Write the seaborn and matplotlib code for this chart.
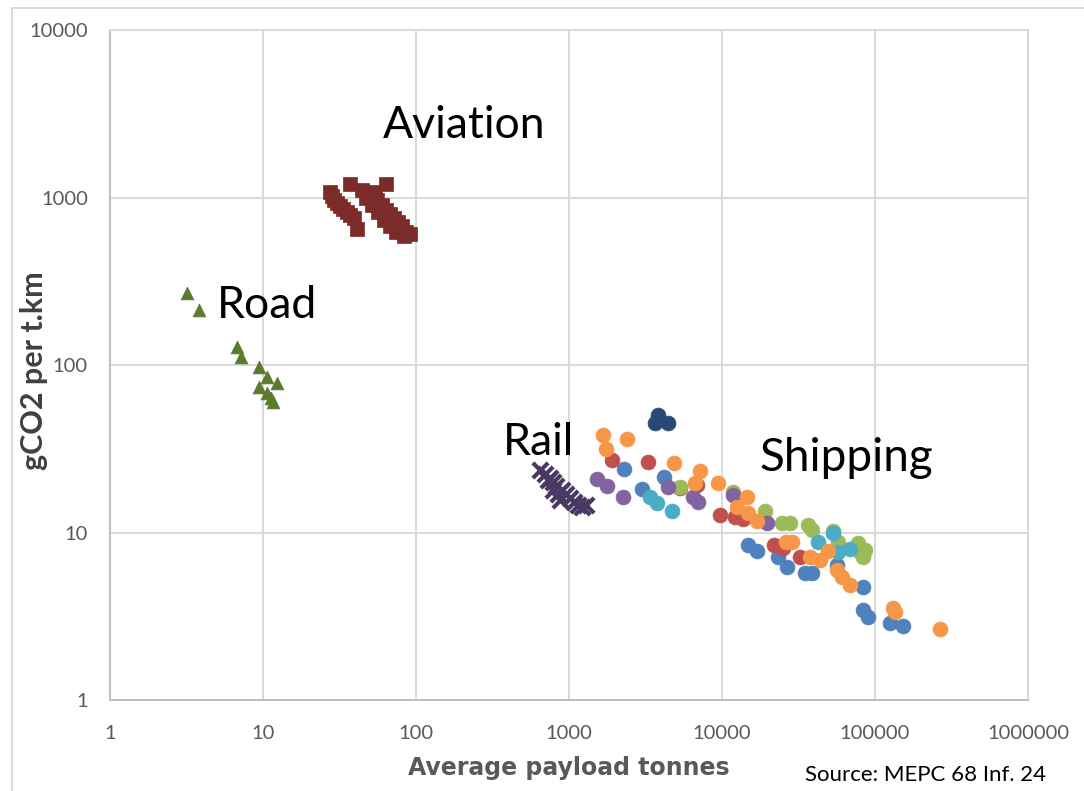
import pandas as pd
import matplotlib
matplotlib.use("Agg")
import matplotlib.pyplot as plt
import matplotlib.ticker as mticker
from matplotlib.patches import Rectangle
import seaborn as sns

# values (payload tonnes, gCO2 per t.km)
road_x = [3.2, 3.8, 6.8, 7.2, 9.4, 10.6, 12.4, 9.4, 10.6, 11.3, 11.7]
road_y = [269, 213, 128, 112, 97, 85, 78, 74, 68, 63.5, 60]

aviation_x = [27.4, 28.3, 29.1, 30.5, 31.9, 33.3, 35.4, 37.0, 39.3, 41.1,
              37.0, 44.4, 50.0, 55.6, 63.7, 60.0, 63.7, 67.6, 71.8, 76.3,
              81.0, 86.0, 91.4, 54.0, 47.1, 51.6, 56.5, 61.8, 67.6, 74.0, 83.5]
aviation_y = [1079, 1021, 966, 927, 890, 853, 819, 787, 755, 649,
              1205, 1109, 1021, 966, 1205, 902, 842, 797, 755, 714,
              676, 622, 606, 1079, 993, 902, 819, 734, 676, 622, 589]

rail_x = [646, 697, 751, 786, 822, 786, 847, 900, 956, 1015, 1079, 1145, 1216, 1292, 873, 729]
rail_y = [23.6, 22.4, 21.2, 20.0, 19.0, 17.9, 17.0, 17.9, 17.0, 16.1, 15.2, 14.6, 14.2, 14.6, 15.6, 20.6]

ship_blue_x = [2290, 4180, 3000, 14790, 16940, 23230, 26590, 34860, 38740, 56460,
               83510, 83510, 89960, 125300, 152400]
ship_blue_y = [23.9, 21.4, 18.2, 8.42, 7.76, 7.14, 6.22, 5.73, 5.73, 6.40,
               4.73, 3.45, 3.13, 2.88, 2.77]

ship_red_x = [1910, 3280, 5310, 6870, 9700, 12160, 13710, 21860, 25060, 32350]
ship_red_y = [27.1, 26.4, 18.4, 19.2, 12.7, 12.4, 12.0, 8.42, 8.08, 7.14]

ship_green_x = [5310, 11800, 19090, 24660, 27810, 36480, 38740, 53110, 57260,
                77450, 79810, 83510, 86030]
ship_green_y = [18.7, 17.5, 13.4, 11.4, 11.4, 11.1, 10.4, 10.2, 8.78,
                8.65, 7.65, 7.14, 7.86]

ship_purple_x = [1520, 1770, 2250, 4440, 6460, 6970, 11800, 19680]
ship_purple_y = [20.9, 18.9, 16.3, 18.7, 16.3, 15.2, 16.7, 11.4]

ship_aqua_x = [3380, 3760, 4710, 42380, 53110, 57260, 68690]
ship_aqua_y = [16.3, 15.0, 13.4, 8.78, 9.93, 7.65, 7.97]

ship_orange_x = [1670, 2390, 1750, 4860, 7180, 6660, 9420, 14560, 12530, 14790,
                 16940, 26190, 28700, 37610, 43740, 49320, 56460, 60860, 68690,
                 131200, 135200, 265900]
ship_orange_y = [38.2, 36.2, 31.5, 26.0, 23.3, 19.8, 19.8, 16.3, 14.2, 13.1,
                 11.7, 8.78, 8.78, 7.14, 6.85, 7.76, 5.97, 5.42, 4.86,
                 3.54, 3.35, 2.65]

ship_navy_x = [3820, 3650, 4440]
ship_navy_y = [50.3, 45.1, 45.1]

groups = [
    ("Road", road_x, road_y, "^", 85, "#5A7A2E"),
    ("Aviation", aviation_x, aviation_y, "s", 95, "#7B2C2A"),
    ("Rail", rail_x, rail_y, "x", 120, "#4A3A63"),
    ("Ship blue", ship_blue_x, ship_blue_y, "o", 115, "#4F81BD"),
    ("Ship red", ship_red_x, ship_red_y, "o", 115, "#C0504D"),
    ("Ship green", ship_green_x, ship_green_y, "o", 115, "#9BBB59"),
    ("Ship purple", ship_purple_x, ship_purple_y, "o", 115, "#8064A2"),
    ("Ship aqua", ship_aqua_x, ship_aqua_y, "o", 115, "#4BACC6"),
    ("Ship orange", ship_orange_x, ship_orange_y, "o", 115, "#F79646"),
    ("Ship navy", ship_navy_x, ship_navy_y, "o", 115, "#2A4A75"),
]

frames = [pd.DataFrame({"payload": xs, "gco2": ys, "group": name})
          for name, xs, ys, _, _, _ in groups]
data = pd.concat(frames, ignore_index=True)

sns.set_style("white")
plt.rcParams["font.family"] = ["Lato", "DejaVu Sans"]

fig = plt.figure(figsize=(10.84, 7.91), dpi=100)
ax = fig.add_axes([0.1015, 0.115, 0.8468, 0.847])

for name, _, _, marker, size, color in groups:
    sub = data[data["group"] == name]
    if marker == "x":
        sns.scatterplot(data=sub, x="payload", y="gco2", marker=marker, s=size,
                        color=color, linewidth=3, ax=ax, legend=False, zorder=3)
    else:
        sns.scatterplot(data=sub, x="payload", y="gco2", marker=marker, s=size,
                        color=color, edgecolor=color, linewidth=0.5, ax=ax,
                        legend=False, zorder=3)

ax.set_xscale("log")
ax.set_yscale("log")
ax.set_xlim(1, 1e6)
ax.set_ylim(1, 1e4)

# only the decades inside the view, written as plain numbers
ax.set_xticks([1, 10, 100, 1000, 10000, 100000, 1000000])
ax.set_yticks([1, 10, 100, 1000, 10000])
plain = mticker.FuncFormatter(lambda v, p: f"{v:.0f}")
for axis in (ax.xaxis, ax.yaxis):
    axis.set_minor_locator(mticker.LogLocator(base=10, subs=range(2, 10), numticks=20))
    axis.set_major_formatter(plain)
    axis.set_minor_formatter(mticker.NullFormatter())

ax.grid(which="major", color="#D9D9D9", linewidth=1.4)
ax.grid(which="minor", visible=False)
ax.tick_params(which="major", length=0, labelsize=14.5, labelcolor="#595959")
ax.tick_params(axis="y", which="major", pad=16)
ax.tick_params(axis="x", which="major", pad=18)
ax.tick_params(which="minor", direction="in", length=6, width=1.2, color="#BFBFBF")
for side in ("left", "bottom"):
    ax.spines[side].set_color("#BFBFBF")
    ax.spines[side].set_linewidth(1.4)
for side in ("top", "right"):
    ax.spines[side].set_color("#D9D9D9")
    ax.spines[side].set_linewidth(1.4)

ax.set_xlabel("Average payload tonnes", family="DejaVu Sans", fontsize=17,
              fontweight="bold", color="#595959", labelpad=10)
ax.set_ylabel("")

fig.text(34 / 1084, 0.532, "gCO2 per t.km", rotation=90, fontsize=22,
         fontweight="bold", color="#404040", ha="center", va="center")

ax.text(60.9, 2710, "Aviation", fontsize=32, va="center", ha="left", color="black")
ax.text(5.0, 228, "Road", fontsize=32, va="center", ha="left", color="black")
ax.text(370, 34.7, "Rail", fontsize=32, va="center", ha="left", color="black")
ax.text(17700, 27.9, "Shipping", fontsize=33, va="center", ha="left", color="black")

fig.text(0.7426, 0.02, "Source: MEPC 68 Inf. 24", fontsize=16, ha="left",
         va="center", color="black")

fig.patches.append(Rectangle((0.011, -0.1), 1.2, 1.09, transform=fig.transFigure,
                             fill=False, edgecolor="#D9D9D9", linewidth=1.4))

plt.savefig("out.png", dpi=100)
